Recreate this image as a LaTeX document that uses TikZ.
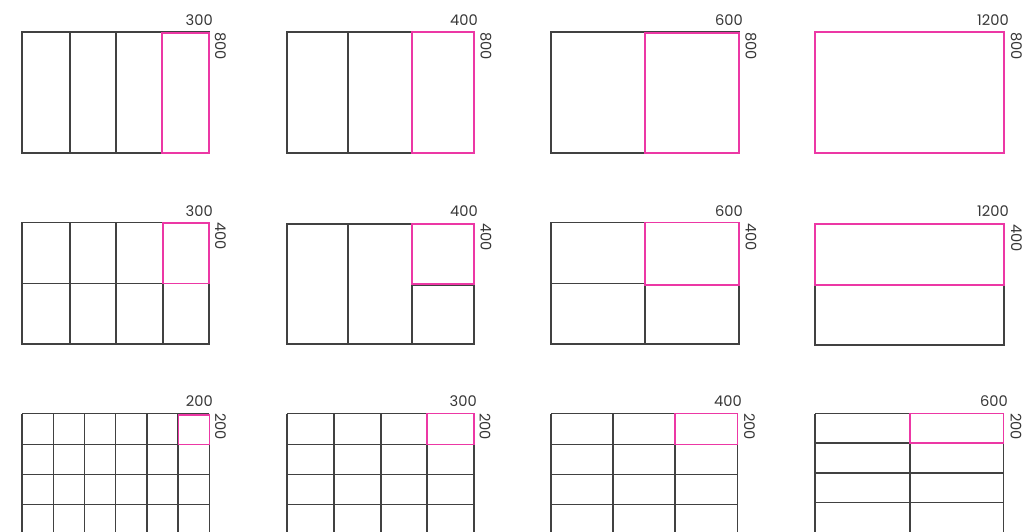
\documentclass[tikz,border=0pt]{standalone}
\usepackage{fontspec}
\setmainfont{Poppins}
\definecolor{pinkline}{RGB}{236,56,165}
\definecolor{ln}{RGB}{65,65,65}
\definecolor{tx}{RGB}{55,55,55}
\begin{document}
\begin{tikzpicture}[x=0.75pt,y=-0.75pt,
  blk/.style={draw=ln,line width=1.05pt},
  mag/.style={draw=pinkline,line width=1.1pt},
  dimtxt/.style={font=\fontsize{11}{13}\selectfont,text=tx,inner sep=0pt},
  wdim/.style={dimtxt,anchor=base east},
  hdim/.style={dimtxt,rotate=-90,anchor=base west}]
\useasboundingbox (0,0) rectangle (1032,532);
\clip (0,0) rectangle (1032,532);
% ---------- Row 1 ----------
\draw[blk] (22,32) rectangle (209,153);
\foreach \x in {70,116} \draw[blk] (\x,32) -- (\x,153);
\draw[mag] (162,33) rectangle (209,153);
\node[wdim] (w11) at (213,25) {300};
\node[hdim] (h11) at (215,32) {800};

\draw[blk] (287,32) rectangle (474,153);
\draw[blk] (348,32) -- (348,153);
\draw[mag] (412,32) rectangle (474,153);
\node[wdim] (w12) at (478,25) {400};
\node[hdim] (h12) at (480.5,32) {800};

\draw[blk] (551,32) rectangle (739,153);
\draw[mag] (645,33) rectangle (739,153);
\node[wdim] (w13) at (743,25) {600};
\node[hdim] (h13) at (745.5,32) {800};

\draw[mag] (815,32) rectangle (1004,153);
\node[wdim] (w14) at (1009,25) {1200};
\node[hdim] (h14) at (1011,32) {800};
% ---------- Row 2 ----------
\draw[blk] (22,222.5) rectangle (209,344);
\foreach \x in {70,116,163} \draw[blk] (\x,222.5) -- (\x,344);
\draw[blk] (22,283.5) -- (209,283.5);
\draw[mag] (163,223) rectangle (209,283.5);
\node[wdim] (w21) at (213,216) {300};
\node[hdim] (h21) at (215,222) {400};

\draw[blk] (287,224) rectangle (474,344);
\foreach \x in {348,412} \draw[blk] (\x,224) -- (\x,344);
\draw[blk] (412,285) -- (474,285);
\draw[mag] (412,224) rectangle (474,283.8);
\node[wdim] (w22) at (478,216) {400};
\node[hdim] (h22) at (480.5,223) {400};

\draw[blk] (551,222.5) rectangle (739,344);
\draw[blk] (645,222.5) -- (645,344);
\draw[blk] (551,283.5) -- (645,283.5);
\draw[mag] (645,222.5) rectangle (739,285);
\node[wdim] (w23) at (743,216) {600};
\node[hdim] (h23) at (745.5,223) {400};

\draw[blk] (815,285) rectangle (1004,345);
\draw[mag] (815,224) rectangle (1004,285);
\node[wdim] (w24) at (1009,216) {1200};
\node[hdim] (h24) at (1011,224) {400};
% ---------- Row 3 ----------
\foreach \x in {22,53.2,84.4,115.6,146.8,178,209.3} \draw[blk] (\x,413.5) -- (\x,540);
\foreach \y in {413.5,444.3,474.7,504.3} \draw[blk] (22,\y) -- (209.3,\y);
\draw[mag] (178.5,415) rectangle (209.3,444.3);
\node[wdim] (w31) at (213,406) {200};
\node[hdim] (h31) at (215,413) {200};

\foreach \x in {287,334,381,427,474} \draw[blk] (\x,413.5) -- (\x,540);
\foreach \y in {413.5,444.3,474.7,504.3} \draw[blk] (287,\y) -- (474,\y);
\draw[mag] (427,413.5) rectangle (474,444.3);
\node[wdim] (w32) at (477,406) {300};
\node[hdim] (h32) at (479.5,413) {200};

\foreach \x in {551,613,675,737.5} \draw[blk] (\x,413.5) -- (\x,540);
\foreach \y in {413.5,444.3,474.7,504.3} \draw[blk] (551,\y) -- (737.5,\y);
\draw[mag] (675,413.5) rectangle (737.5,444.3);
\node[wdim] (w33) at (742,406) {400};
\node[hdim] (h33) at (744,413) {200};

\foreach \x in {815,910,1003.5} \draw[blk] (\x,413.7) -- (\x,540);
\foreach \y in {413.7,443,473,502.7} \draw[blk] (815,\y) -- (1003.5,\y);
\draw[mag] (910,413.7) rectangle (1003.5,443);
\node[wdim] (w34) at (1008,406) {600};
\node[hdim] (h34) at (1010.5,413) {200};
\end{tikzpicture}
\end{document}
